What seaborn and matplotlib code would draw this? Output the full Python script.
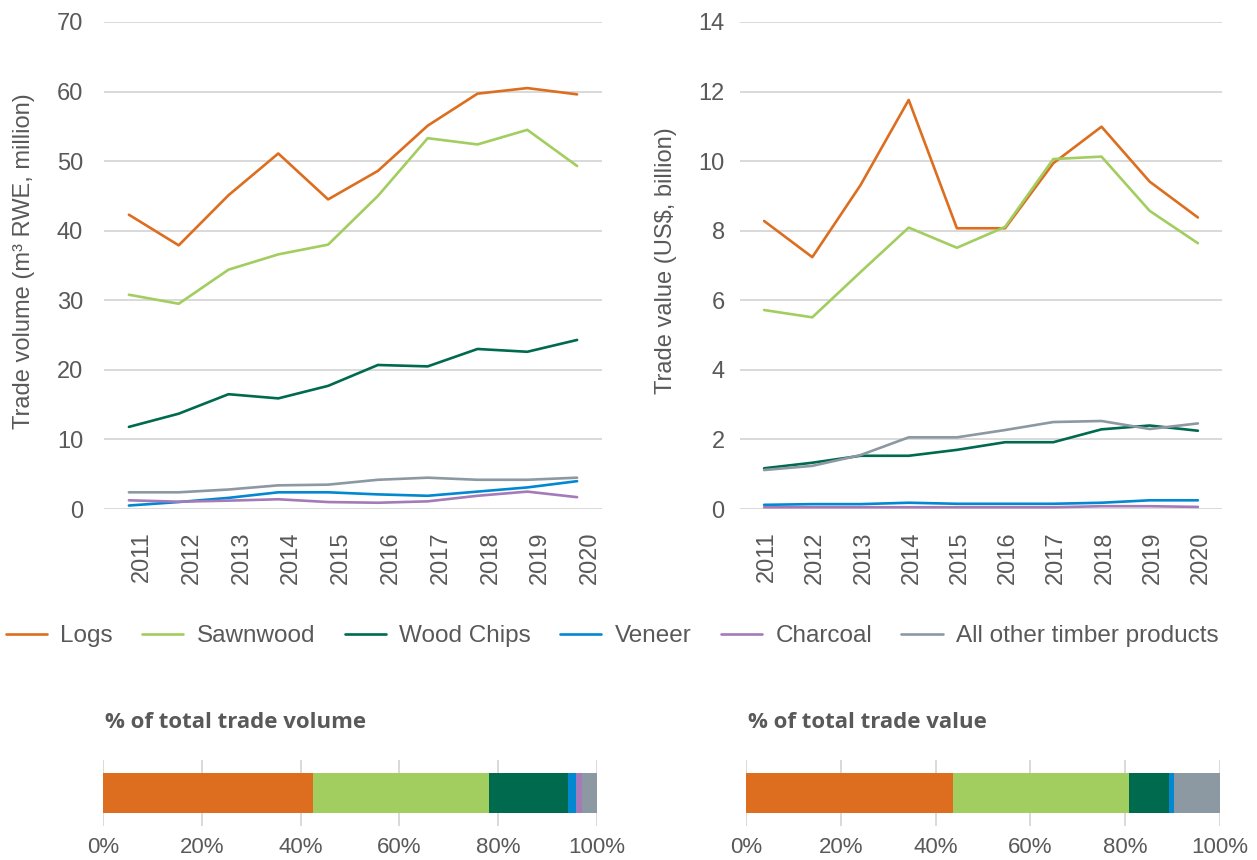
import seaborn as sns
import matplotlib.pyplot as plt
import pandas as pd
from matplotlib.ticker import PercentFormatter
from matplotlib.transforms import ScaledTranslation

# Data
years = ['2011', '2012', '2013', '2014', '2015', '2016', '2017', '2018', '2019', '2020']
products = ['Logs', 'Sawnwood', 'Wood Chips', 'Veneer', 'Charcoal', 'All other timber products']
colors = ['#DD6D1F', '#A2CD5F', '#006A4E', '#0288D1', '#A57AB8', '#8C99A2']

# trade volume, m3 RWE million
vol_logs = [42.3, 37.9, 45.1, 51.1, 44.5, 48.6, 55.1, 59.7, 60.5, 59.6]
vol_sawnwood = [30.8, 29.5, 34.4, 36.6, 38.0, 45.0, 53.3, 52.4, 54.5, 49.3]
vol_chips = [11.8, 13.7, 16.5, 15.9, 17.7, 20.7, 20.5, 23.0, 22.6, 24.3]
vol_veneer = [0.5, 1.0, 1.6, 2.4, 2.4, 2.1, 1.9, 2.5, 3.1, 4.0]
vol_charcoal = [1.25, 1.05, 1.2, 1.4, 1.0, 0.9, 1.1, 1.9, 2.5, 1.7]
vol_other = [2.4, 2.4, 2.8, 3.4, 3.5, 4.2, 4.5, 4.2, 4.2, 4.5]

# trade value, US$ billion
val_logs = [8.28, 7.24, 9.31, 11.76, 8.07, 8.07, 9.94, 10.99, 9.41, 8.38]
val_sawnwood = [5.72, 5.51, 6.81, 8.09, 7.51, 8.11, 10.06, 10.13, 8.57, 7.64]
val_chips = [1.17, 1.33, 1.53, 1.53, 1.70, 1.92, 1.92, 2.29, 2.40, 2.25]
val_veneer = [0.12, 0.14, 0.14, 0.18, 0.15, 0.15, 0.15, 0.18, 0.25, 0.25]
val_charcoal = [0.05, 0.05, 0.05, 0.05, 0.05, 0.05, 0.05, 0.08, 0.08, 0.06]
val_other = [1.12, 1.24, 1.55, 2.06, 2.06, 2.27, 2.50, 2.53, 2.30, 2.46]

# share of total (%)
share_volume = [42.6, 35.6, 15.9, 1.7, 1.1, 3.1]
share_value = [43.7, 37.0, 8.6, 0.9, 0.2, 9.6]

text_color = '#595959'
grid_color = '#D9D9D9'

sns.set_style('white')
plt.rcParams['font.family'] = ['Liberation Sans', 'DejaVu Sans']
plt.rcParams['text.color'] = text_color
plt.rcParams['axes.labelcolor'] = text_color
plt.rcParams['xtick.color'] = text_color
plt.rcParams['ytick.color'] = text_color


def long_df(series):
    rows = []
    for prod, vals in zip(products, series):
        for yr, v in zip(years, vals):
            rows.append({'Year': yr, 'Product': prod, 'Value': v})
    return pd.DataFrame(rows)


vol_df = long_df([vol_logs, vol_sawnwood, vol_chips, vol_veneer, vol_charcoal, vol_other])
val_df = long_df([val_logs, val_sawnwood, val_chips, val_veneer, val_charcoal, val_other])

fig = plt.figure(figsize=(12.57, 8.6), dpi=100)
ax1 = fig.add_axes([104 / 1257, 1 - 509 / 860, 498 / 1257, 487 / 860])
ax2 = fig.add_axes([740 / 1257, 1 - 509 / 860, 482 / 1257, 487 / 860])
palette = dict(zip(products, colors))

for ax, df, top, step, label, ypad, lab_x, xshift in [
    (ax1, vol_df, 70, 10, 'Trade volume (m³ RWE, million)', 15, -0.139, 13),
    (ax2, val_df, 14, 2, r'Trade value (US\$, billion)', 11, -0.131, 3),
]:
    sns.lineplot(data=df, x='Year', y='Value', hue='Product', hue_order=products,
                 palette=palette, linewidth=1.9, sort=False, ax=ax, legend=True)
    ax.set_xlim(-0.5, len(years) - 0.5)
    ax.set_ylim(0, top)
    ax.set_yticks(range(0, top + 1, step))
    ax.grid(axis='y', color=grid_color, linewidth=1.4)
    ax.grid(axis='x', visible=False)
    ax.set_axisbelow(True)
    for s in ax.spines.values():
        s.set_visible(False)
    ax.tick_params(axis='y', length=0, pad=ypad, labelsize=17)
    ax.tick_params(axis='x', length=0, pad=16, labelsize=17, rotation=90)
    # Excel-style nudge of the rotated year labels
    for t in ax.get_xticklabels():
        t.set_transform(t.get_transform() + ScaledTranslation(xshift / 100, 0, fig.dpi_scale_trans))
    ax.set_xlabel('')
    ax.set_ylabel(label, fontsize=17)
    ax.yaxis.set_label_coords(lab_x, 0.51)

handles, labels = ax1.get_legend_handles_labels()
ax1.get_legend().remove()
ax2.get_legend().remove()
fig.legend(handles, labels, loc='center', bbox_to_anchor=(0.487, 1 - 636 / 860), ncol=6,
           frameon=False, fontsize=17.5, handlelength=1.7, handletextpad=0.55,
           columnspacing=1.2)

# stacked share bars
bx1 = fig.add_axes([103 / 1257, 1 - 826 / 860, 494 / 1257, 66 / 860])
bx2 = fig.add_axes([746 / 1257, 1 - 826 / 860, 474 / 1257, 66 / 860])
for bx, shares, title, tx in [
    (bx1, share_volume, '% of total trade volume', 105),
    (bx2, share_value, '% of total trade value', 748),
]:
    cum = pd.Series(shares).cumsum().tolist()
    bdf = pd.DataFrame({'Product': products, 'Cum': cum, 'Row': ''})
    sns.barplot(data=bdf, x='Cum', y='Row', hue='Product', hue_order=products[::-1],
                palette=palette, dodge=False, width=0.6, orient='h', saturation=1,
                errorbar=None, linewidth=0, legend=False, ax=bx)
    bx.set_xlim(0, 100)
    bx.set_xticks(range(0, 101, 20))
    bx.xaxis.set_major_formatter(PercentFormatter(100, decimals=0))
    bx.grid(axis='x', color=grid_color, linewidth=1.4)
    bx.grid(axis='y', visible=False)
    bx.set_axisbelow(True)
    for s in bx.spines.values():
        s.set_visible(False)
    bx.tick_params(axis='x', length=0, pad=8, labelsize=16)
    bx.set_yticks([])
    bx.set_xlabel('')
    bx.set_ylabel('')
    fig.text(tx / 1257, 1 - 723 / 860, title, ha='left', va='center', fontsize=16,
             fontweight='bold', family=['Open Sans', 'DejaVu Sans'], color=text_color)

fig.savefig('out.png', dpi=100)
